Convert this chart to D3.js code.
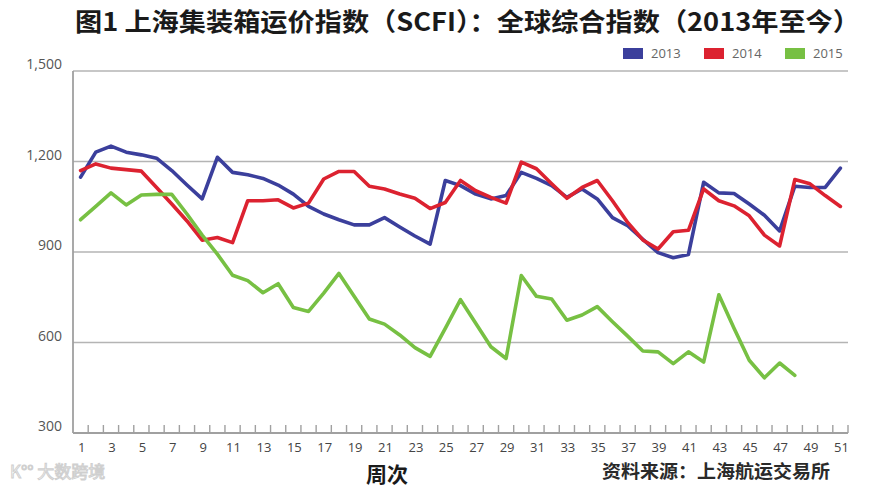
<!DOCTYPE html>
<html>
<head>
<meta charset="utf-8">
<script src="https://cdn.jsdelivr.net/npm/d3@7"></script>
<style>
  html, body { margin: 0; padding: 0; background: #fff; }
  svg { display: block; }
</style>
</head>
<body>
<svg id="chart" width="888" height="489"></svg>
<script>
const weeks = d3.range(1, 52);
const seriesNames = ["2013", "2014", "2015"];
const values2013 = [1148,1231,1251,1231,1222,1211,1170,1122,1076,1214,
  1164,1156,1144,1122,1092,1051,1026,1007,990,990,
  1014,983,953,926,1137,1120,1092,1076,1087,1164,
  1144,1120,1081,1109,1076,1014,987,942,898,881,
  892,1131,1096,1094,1059,1022,970,1118,1114,1114,1178];
const values2014 = [1170,1192,1178,1173,1168,1114,1059,1003,939,948,
  931,1070,1070,1073,1046,1062,1142,1167,1167,1118,
  1109,1092,1078,1044,1064,1137,1103,1081,1062,1198,
  1176,1126,1078,1114,1137,1070,998,940,910,967,
  972,1109,1070,1053,1020,956,920,1140,1126,1087,1051];
const values2015 = [1007,1051,1096,1056,1089,1091,1091,1026,956,893,
  823,805,765,795,716,703,764,829,753,678,
  661,625,583,554,647,742,664,586,547,822,
  753,744,674,691,719,669,621,572,569,530,
  569,535,758,647,541,483,532,491];
const yTicks = [300, 600, 900, 1200, 1500];
const xTickLabels = weeks.filter(w => w % 2 === 1);
const colors = ["#3b3f9c", "#dc2230", "#77c043"];
const titleText = "图1 上海集装箱运价指数（SCFI）：全球综合指数（2013年至今）";
const xTitle = "周次";
const sourceText = "资料来源：上海航运交易所";

const svg = d3.select("#chart");
const pLeft = 73, pRight = 848, pTop = 71, pBottom = 433;

const x = d3.scaleBand().domain(weeks).range([pLeft, pRight]).padding(0);
const y = d3.scaleLinear().domain([300, 1500]).range([pBottom, pTop]);
const cx = w => x(w) + x.bandwidth() / 2;

// title
svg.append("text")
  .attr("x", 75).attr("y", 31)
  .attr("textLength", 785).attr("lengthAdjust", "spacingAndGlyphs")
  .style("font-family", "'Noto Sans CJK SC', sans-serif")
  .style("font-weight", "bold").style("font-size", "25px")
  .attr("fill", "#1a1a1a")
  .text(titleText);

// gridlines
svg.append("g").selectAll("line")
  .data(yTicks.filter(t => t > 300))
  .join("line")
  .attr("x1", pLeft).attr("x2", pRight)
  .attr("y1", d => y(d)).attr("y2", d => y(d))
  .attr("stroke", "#b4b4b4").attr("stroke-width", 1.6);

// y labels
svg.append("g").selectAll("text")
  .data(yTicks)
  .join("text")
  .attr("x", 62).attr("y", d => y(d) - 2)
  .attr("text-anchor", "end")
  .style("font-family", "'Open Sans', sans-serif")
  .style("font-size", "14px")
  .attr("fill", "#555")
  .text(d => d3.format(",")(d));

// axes lines
svg.append("line").attr("x1", pLeft).attr("x2", pLeft).attr("y1", pTop).attr("y2", pBottom)
  .attr("stroke", "#a0a0a0").attr("stroke-width", 1.8);
svg.append("line").attr("x1", pLeft).attr("x2", pRight).attr("y1", pBottom).attr("y2", pBottom)
  .attr("stroke", "#a0a0a0").attr("stroke-width", 1.8);

// x ticks at band boundaries
svg.append("g").selectAll("line")
  .data(weeks)
  .join("line")
  .attr("x1", d => x(d) + x.bandwidth()).attr("x2", d => x(d) + x.bandwidth())
  .attr("y1", pBottom).attr("y2", pBottom - 8)
  .attr("stroke", "#a0a0a0").attr("stroke-width", 1.4);

// x labels
svg.append("g").selectAll("text")
  .data(xTickLabels)
  .join("text")
  .attr("x", d => cx(d) + 1).attr("y", 452)
  .attr("text-anchor", "middle")
  .style("font-family", "'Open Sans', sans-serif")
  .style("font-size", "13px")
  .attr("fill", "#444")
  .text(d => d);

// lines
const line = d3.line().x((d, i) => cx(weeks[i])).y(d => y(d));
[values2013, values2014, values2015].forEach((vals, i) => {
  svg.append("path")
    .datum(vals)
    .attr("d", line)
    .attr("fill", "none")
    .attr("stroke", colors[i])
    .attr("stroke-width", 3.6)
    .attr("stroke-linejoin", "round")
    .attr("stroke-linecap", "round");
});

// legend
const legendX = [623, 704, 785];
const lg = svg.append("g").selectAll("g").data(seriesNames).join("g");
lg.append("rect")
  .attr("x", (d, i) => legendX[i]).attr("y", 48)
  .attr("width", 20).attr("height", 11)
  .attr("fill", (d, i) => colors[i]);
lg.append("text")
  .attr("x", (d, i) => legendX[i] + 28).attr("y", 58)
  .style("font-family", "'Open Sans', sans-serif")
  .style("font-size", "13px")
  .attr("fill", "#666")
  .text(d => d);

// x title
svg.append("text")
  .attr("x", 387).attr("y", 482)
  .attr("text-anchor", "middle")
  .style("font-family", "'Noto Sans CJK SC', sans-serif")
  .style("font-weight", "bold").style("font-size", "21px")
  .attr("fill", "#1a1a1a")
  .text(xTitle);

// source
svg.append("text")
  .attr("x", 602).attr("y", 478)
  .attr("textLength", 228).attr("lengthAdjust", "spacingAndGlyphs")
  .style("font-family", "'Noto Sans CJK SC', sans-serif")
  .style("font-weight", "bold").style("font-size", "18px")
  .attr("fill", "#2a2a2a")
  .text(sourceText);

// watermark
svg.append("text")
  .attr("x", 10).attr("y", 478)
  .style("font-family", "'Noto Sans CJK SC', sans-serif")
  .style("font-size", "17px")
  .attr("fill", "none").attr("stroke", "#cfcfcf").attr("stroke-width", 1)
  .text("K°° 大数跨境");
</script>
</body>
</html>
